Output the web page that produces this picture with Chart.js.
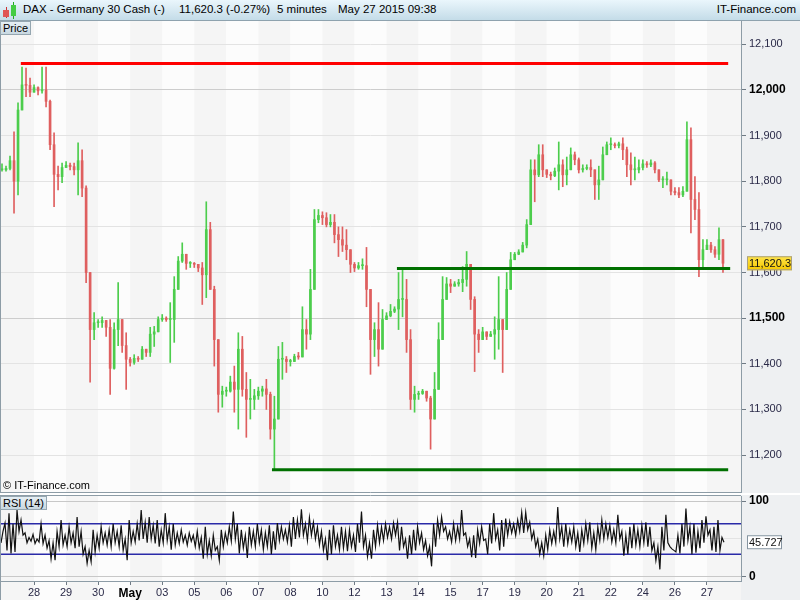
<!DOCTYPE html>
<html>
<head>
<meta charset="utf-8">
<script src="https://cdn.jsdelivr.net/npm/chart.js@4.4.1/dist/chart.umd.min.js"></script>
<style>
  body { margin: 0; width: 800px; height: 600px; overflow: hidden; background: #fff; position: relative;
         font-family: Arial, "Liberation Sans", sans-serif; }
  #hdr { position: absolute; left: 0; top: 0; width: 800px; height: 20px;
         background: linear-gradient(#eaf6fc, #c4dce8); border-bottom: 1px solid #8ea2ae; font-size: 11.5px; }
  #hdr span { position: absolute; top: 3px; white-space: nowrap; }
  .wick { position: absolute; width: 1px; }
  .body { position: absolute; }
  canvas { position: absolute; left: 0; }
  #priceCanvas { top: 21px; }
  #rsiCanvas { top: 495px; }
  .tag { position: absolute; left: 0; font-size: 11px; line-height: 12px; padding: 0 2px;
         background: linear-gradient(#e6eff4, #c8d8e1); border: 1px solid #95a6b0; }
  #copy { position: absolute; left: 3px; top: 479px; font-size: 11px; }
</style>
</head>
<body>
<div id="hdr">
  <div class="wick" style="left:6px;top:7px;height:11px;background:#c33"></div>
  <div class="body" style="left:3px;top:10px;width:6px;height:7px;background:#e05555"></div>
  <div class="wick" style="left:13px;top:2px;height:17px;background:#2a2"></div>
  <div class="body" style="left:11px;top:5px;width:5px;height:11px;background:#44cc44"></div>
  <span style="left:23px">DAX - Germany 30 Cash (-)</span>
  <span style="left:179px">11,620.3 (-0.27%)</span>
  <span style="left:277px">5 minutes</span>
  <span style="left:338px">May 27 2015 09:38</span>
  <span style="right:4px">IT-Finance.com</span>
</div>
<canvas id="priceCanvas" width="800" height="472"></canvas>
<canvas id="rsiCanvas" width="800" height="105"></canvas>
<div class="tag" style="top:21px">Price</div>
<div class="tag" style="top:496px">RSI (14)</div>
<div id="copy">© IT-Finance.com</div>
<script>
// x axis: trading days, 8 bars per day
const dayLabels = ["28", "29", "30", "May", "03", "05", "06", "07", "08", "10", "12", "13",
                   "14", "15", "17", "19", "20", "21", "22", "24", "26", "27"];
const barsPerDay = 8;

// price bars (DAX cash)
const highs = [
  11838, 11833, 11855, 11908, 11972, 12050, 12048, 12026, 12011, 12007, 12050, 12050, 11978, 11906, 11833, 11840,
  11843, 11840, 11840, 11884, 11869, 11790, 11600, 11512, 11497, 11503, 11490, 11497, 11490, 11578, 11490, 11468,
  11414, 11420, 11416, 11438, 11427, 11480, 11482, 11503, 11508, 11503, 11534, 11591, 11635, 11665, 11633, 11624,
  11622, 11618, 11622, 11755, 11710, 11570, 11366, 11351, 11349, 11373, 11395, 11468, 11460, 11381, 11366, 11344,
  11349, 11351, 11366, 11338, 11329, 11438, 11447, 11416, 11410, 11421, 11425, 11525, 11497, 11607, 11738, 11738,
  11733, 11731, 11727, 11727, 11700, 11700, 11694, 11650, 11622, 11622, 11630, 11655, 11525, 11490, 11534, 11519,
  11512, 11530, 11525, 11600, 11607, 11585, 11475, 11351, 11340, 11344, 11340, 11329, 11381, 11490, 11591, 11589,
  11585, 11580, 11585, 11613, 11646, 11613, 11547, 11475, 11480, 11468, 11471, 11503, 11591, 11497, 11600, 11644,
  11644, 11650, 11666, 11716, 11847, 11847, 11880, 11880, 11820, 11820, 11829, 11886, 11847, 11853, 11873, 11864,
  11851, 11836, 11836, 11847, 11818, 11833, 11875, 11886, 11895, 11884, 11886, 11895, 11875, 11862, 11853, 11847,
  11847, 11843, 11847, 11843, 11825, 11810, 11820, 11790, 11786, 11786, 11788, 11930, 11917, 11810, 11775, 11672,
  11672, 11666, 11657, 11698, 11672
];
const lows = [
  11822, 11822, 11825, 11730, 11770, 11956, 11985, 11985, 11996, 11989, 11993, 11963, 11869, 11744, 11781, 11797,
  11830, 11825, 11814, 11770, 11766, 11578, 11360, 11453, 11480, 11480, 11460, 11333, 11388, 11440, 11425, 11344,
  11395, 11399, 11405, 11410, 11416, 11416, 11438, 11475, 11493, 11493, 11403, 11447, 11585, 11622, 11607, 11611,
  11611, 11602, 11530, 11545, 11563, 11395, 11294, 11305, 11329, 11338, 11294, 11257, 11329, 11239, 11279, 11300,
  11322, 11329, 11300, 11235, 11169, 11329, 11366, 11381, 11395, 11405, 11410, 11416, 11432, 11453, 11635, 11709,
  11705, 11700, 11700, 11665, 11635, 11646, 11628, 11600, 11602, 11607, 11607, 11525, 11377, 11416, 11395, 11468,
  11497, 11503, 11512, 11475, 11503, 11425, 11300, 11294, 11322, 11333, 11318, 11213, 11294, 11351, 11453, 11556,
  11556, 11570, 11570, 11558, 11570, 11519, 11383, 11425, 11453, 11453, 11460, 11410, 11432, 11381, 11475, 11591,
  11633, 11639, 11650, 11654, 11788, 11755, 11810, 11810, 11808, 11803, 11810, 11781, 11788, 11792, 11836, 11836,
  11818, 11820, 11825, 11810, 11760, 11760, 11818, 11862, 11869, 11873, 11873, 11847, 11810, 11792, 11803, 11818,
  11825, 11830, 11832, 11818, 11799, 11786, 11792, 11770, 11770, 11764, 11766, 11788, 11687, 11716, 11591, 11613,
  11650, 11644, 11633, 11628, 11600
];
const closes = [
  11825, 11828, 11845, 11800, 11956, 12011, 12010, 11995, 12005, 11998, 12000, 11975, 11880, 11815, 11810, 11830,
  11835, 11832, 11825, 11845, 11785, 11600, 11475, 11490, 11490, 11495, 11480, 11390, 11475, 11497, 11440, 11410,
  11403, 11412, 11410, 11432, 11425, 11465, 11470, 11497, 11500, 11497, 11497, 11563, 11625, 11640, 11620, 11620,
  11618, 11610, 11595, 11694, 11563, 11453, 11333, 11340, 11340, 11360, 11344, 11432, 11344, 11322, 11322, 11330,
  11340, 11345, 11333, 11257, 11279, 11410, 11410, 11405, 11405, 11416, 11415, 11475, 11465, 11563, 11716, 11725,
  11720, 11705, 11710, 11683, 11672, 11660, 11650, 11618, 11610, 11615, 11615, 11563, 11453, 11475, 11432, 11497,
  11505, 11515, 11520, 11541, 11541, 11453, 11322, 11333, 11335, 11340, 11325, 11279, 11344, 11453, 11541, 11575,
  11570, 11575, 11578, 11585, 11618, 11541, 11465, 11453, 11470, 11460, 11465, 11475, 11497, 11475, 11563, 11628,
  11640, 11645, 11660, 11705, 11825, 11814, 11858, 11825, 11815, 11812, 11822, 11836, 11814, 11825, 11858, 11847,
  11825, 11828, 11830, 11825, 11792, 11803, 11858, 11880, 11880, 11878, 11882, 11869, 11836, 11825, 11825, 11830,
  11838, 11836, 11840, 11825, 11803, 11803, 11803, 11778, 11775, 11770, 11778, 11891, 11760, 11738, 11628, 11650,
  11660, 11650, 11640, 11672, 11620.3
];
const priceTicks = [11200, 11300, 11400, 11500, 11600, 11700, 11800, 11900, 12000, 12100];

// support / resistance lines drawn on the chart
const levelPrices = [12058, 11609, 11168];
const levelStart = [4.7, 98.6, 67.4];
const levelEnd = [181.3, 181.8, 181.3];
const levelColors = ["#ff0000", "#007000", "#007000"];

// RSI (14), two readings per bar
const rsi = [
  45, 60, 71, 35, 84, 31, 70, 33, 88, 60, 75, 55, 58, 45, 52, 47, 56, 44, 50, 46, 70, 44, 55, 38, 48, 24, 45, 22,
  60, 40, 75, 42, 55, 40, 66, 45, 58, 38, 79, 40, 60, 30, 40, 18, 35, 20, 62, 33, 55, 38, 66, 45, 58, 42, 62, 40,
  70, 45, 60, 40, 68, 35, 50, 22, 75, 45, 60, 46, 70, 48, 88, 50, 72, 45, 79, 50, 68, 44, 75, 40, 62, 45, 84, 48,
  66, 36, 70, 42, 58, 44, 62, 46, 55, 42, 58, 47, 55, 40, 60, 38, 52, 24, 66, 30, 48, 28, 55, 35, 40, 22, 62, 40,
  58, 45, 66, 47, 86, 50, 70, 31, 62, 38, 55, 25, 66, 42, 60, 40, 70, 45, 62, 36, 58, 40, 68, 30, 60, 36, 71, 48,
  66, 50, 62, 46, 68, 40, 79, 50, 75, 52, 89, 55, 70, 48, 78, 55, 72, 50, 66, 42, 60, 35, 50, 22, 62, 30, 68, 40,
  55, 36, 66, 38, 60, 34, 62, 40, 55, 33, 70, 45, 86, 40, 55, 27, 45, 24, 62, 40, 68, 45, 66, 48, 70, 52, 66, 50,
  71, 55, 72, 35, 66, 40, 50, 24, 55, 30, 62, 35, 66, 45, 58, 36, 48, 28, 40, 14, 70, 40, 75, 55, 79, 60, 66, 50,
  60, 46, 70, 48, 66, 50, 88, 55, 58, 40, 50, 26, 55, 25, 62, 44, 66, 48, 50, 30, 70, 44, 84, 50, 62, 35, 75, 40,
  77, 55, 73, 58, 70, 55, 75, 60, 85, 58, 85, 62, 72, 50, 60, 40, 50, 30, 45, 28, 55, 36, 62, 44, 60, 45, 92, 50,
  66, 40, 70, 44, 62, 46, 66, 40, 58, 33, 62, 44, 70, 48, 72, 38, 58, 36, 66, 48, 75, 50, 70, 52, 68, 46, 62, 45,
  82, 50, 60, 28, 55, 30, 66, 38, 70, 42, 62, 40, 68, 45, 72, 40, 66, 35, 45, 22, 40, 10, 66, 35, 82, 45, 40, 37,
  35, 33, 55, 31, 70, 40, 90, 48, 66, 30, 70, 32, 60, 38, 75, 45, 80, 55, 62, 35, 66, 33, 75, 35, 52, 45.727
];
const rsiTicks = [0, 50, 100];
const rsiBands = [70, 30];

Chart.defaults.font.family = 'Arial, "Liberation Sans", sans-serif';

const UP = "#4ccd4c", DOWN = "#df5f5f";
const opens = closes.map((c, i) => i === 0 ? c : closes[i - 1]);
const xMax = (dayLabels.length + 1) * barsPerDay + 0.5;
const lastPrice = closes[closes.length - 1];
const lastRsi = rsi[rsi.length - 1];

// day stripes + grey axis column
const panelBg = {
  id: "panelBg",
  beforeDraw(chart, args, opts) {
    const { ctx, chartArea: a, scales: { x } } = chart;
    ctx.save();
    ctx.fillStyle = "#eef0f2";
    ctx.fillRect(a.right, 0, chart.width - a.right, chart.height);
    const bottom = opts.toBottom ? chart.height : a.bottom;
    for (let d = 0; d <= dayLabels.length; d++) {
      const l = d === 0 ? a.left : x.getPixelForValue(d * barsPerDay);
      const r = d === dayLabels.length ? a.right : x.getPixelForValue((d + 1) * barsPerDay);
      ctx.fillStyle = d % 2 === 0 ? "#f5f5f5" : "#fcfcfc";
      ctx.fillRect(l, a.top, r - l, bottom - a.top);
    }
    ctx.restore();
  },
  afterDraw(chart, args, opts) {
    const { ctx, chartArea: a, scales: { y } } = chart;
    ctx.save();
    ctx.strokeStyle = "#8d9ca6";
    ctx.lineWidth = 1;
    ctx.beginPath();
    ctx.moveTo(a.left + 0.5, 0);
    ctx.lineTo(a.left + 0.5, chart.height);
    if (opts.frameTop) { ctx.moveTo(a.left, a.top - 0.5); ctx.lineTo(a.right, a.top - 0.5); }
    if (opts.frameBottom) { ctx.moveTo(a.left, a.bottom - 0.5); ctx.lineTo(a.right, a.bottom - 0.5); }
    ctx.stroke();
    // last value tag
    const yv = y.getPixelForValue(opts.value);
    const w = opts.tagWidth, h = 14, lx = a.right + 6;
    if (opts.yellow) {
      const g = ctx.createLinearGradient(0, yv - h / 2, 0, yv + h / 2);
      g.addColorStop(0, "#ffe44a");
      g.addColorStop(1, "#f5c800");
      ctx.fillStyle = g;
    } else {
      ctx.fillStyle = "#ffffff";
    }
    ctx.fillRect(lx, yv - h / 2, w, h);
    ctx.strokeStyle = opts.yellow ? "#a8a080" : "#8594a0";
    ctx.strokeRect(lx + 0.5, yv - h / 2 + 0.5, w - 1, h - 1);
    ctx.fillStyle = "#111";
    ctx.font = '11px Arial, "Liberation Sans", sans-serif';
    ctx.textBaseline = "middle";
    ctx.textAlign = "left";
    ctx.fillText(opts.label, lx + 2, yv + 0.5);
    ctx.restore();
  }
};

function fixAxis(width) {
  return (s) => { s.width = width; s.paddingTop = 0; s.paddingBottom = 0; };
}

new Chart(document.getElementById("priceCanvas"), {
  type: "bar",
  data: {
    datasets: [
      ...levelPrices.map((p, k) => ({
        type: "line",
        data: [{ x: levelStart[k], y: p }, { x: levelEnd[k], y: p }],
        borderColor: levelColors[k],
        borderWidth: 3,
        pointRadius: 0
      })),
      {
        data: closes.map((c, i) => ({ x: i, y: [opens[i], c] })),
        backgroundColor: (ctx) => closes[ctx.dataIndex] >= opens[ctx.dataIndex] ? UP : DOWN,
        barThickness: 2,
        minBarLength: 1,
        grouped: false
      },
      {
        data: closes.map((c, i) => ({
          x: i,
          y: [Math.min(lows[i], opens[i], c), Math.max(highs[i], opens[i], c)]
        })),
        backgroundColor: (ctx) => closes[ctx.dataIndex] >= opens[ctx.dataIndex] ? UP : DOWN,
        barThickness: 1,
        grouped: false
      }
    ]
  },
  options: {
    responsive: false,
    animation: false,
    layout: { padding: 0 },
    plugins: {
      legend: { display: false },
      tooltip: { enabled: false },
      panelBg: { toBottom: false, frameBottom: true, value: lastPrice, yellow: true, tagWidth: 45,
                 label: lastPrice.toLocaleString("en-US", { minimumFractionDigits: 1 }) }
    },
    scales: {
      x: { type: "linear", min: -0.5, max: xMax, display: false, offset: false },
      y: {
        position: "right",
        min: 11117,
        max: 12151,
        afterBuildTicks: (s) => { s.ticks = priceTicks.map((v) => ({ value: v })); },
        afterFit: fixAxis(59),
        border: { display: true, color: "#8d9ca6" },
        grid: {
          color: (ctx) => ctx.tick && ctx.tick.value % 500 === 0 ? "#cdcdcd" : "#e3e3e3",
          tickColor: "#6f7a84",
          tickLength: 5
        },
        ticks: {
          padding: 3,
          color: (ctx) => ctx.tick.value % 500 === 0 ? "#000" : "#2a2a48",
          font: (ctx) => ctx.tick && ctx.tick.value % 500 === 0 ? { size: 12, weight: "bold" } : { size: 11 },
          callback: (v) => v.toLocaleString("en-US")
        }
      }
    }
  },
  plugins: [panelBg]
});

new Chart(document.getElementById("rsiCanvas"), {
  type: "line",
  data: {
    datasets: [
      {
        data: rsi.map((v, j) => ({ x: j / 2 - 0.25, y: v })),
        borderColor: "#111",
        borderWidth: 1.2,
        pointRadius: 0,
        tension: 0
      },
      ...rsiBands.map((b) => ({
        data: [{ x: -0.5, y: b }, { x: xMax, y: b }],
        borderColor: "#2a2aa8",
        borderWidth: 1.5,
        pointRadius: 0
      }))
    ]
  },
  options: {
    responsive: false,
    animation: false,
    layout: { padding: { top: 1 } },
    plugins: {
      legend: { display: false },
      tooltip: { enabled: false },
      panelBg: { toBottom: true, frameTop: true, value: lastRsi, yellow: false, tagWidth: 35,
                 label: lastRsi.toFixed(3) }
    },
    scales: {
      x: {
        type: "linear",
        min: -0.5,
        max: xMax,
        offset: false,
        afterBuildTicks: (s) => { s.ticks = dayLabels.map((_, k) => ({ value: (k + 1) * barsPerDay })); },
        afterFit: (s) => { s.height = 19; s.paddingLeft = 0; s.paddingRight = 0; },
        border: { display: true, color: "#8d9ca6" },
        grid: { drawOnChartArea: false, drawTicks: true, tickLength: 4, tickColor: "#6f7a84" },
        ticks: {
          autoSkip: false,
          maxRotation: 0,
          padding: 1,
          color: (ctx) => ctx.index === 3 ? "#000" : "#2a2a48",
          font: (ctx) => ctx.index === 3 ? { size: 12, weight: "bold" } : { size: 11 },
          callback: (v, i) => dayLabels[i]
        }
      },
      y: {
        position: "right",
        min: -5.3,
        max: 106.6,
        afterBuildTicks: (s) => { s.ticks = rsiTicks.map((v) => ({ value: v })); },
        afterFit: fixAxis(59),
        border: { display: true, color: "#8d9ca6" },
        grid: {
          color: (ctx) => ctx.tick && ctx.tick.value === 50 ? "#e3e3e3" : "#c8c8c8",
          tickColor: (ctx) => ctx.tick && ctx.tick.value === 50 ? "rgba(0,0,0,0)" : "#6f7a84",
          tickLength: 5
        },
        ticks: {
          padding: 3,
          color: "#000",
          font: { size: 12, weight: "bold" },
          callback: (v) => v === 50 ? "" : v
        }
      }
    }
  },
  plugins: [panelBg]
});
</script>
</body>
</html>
